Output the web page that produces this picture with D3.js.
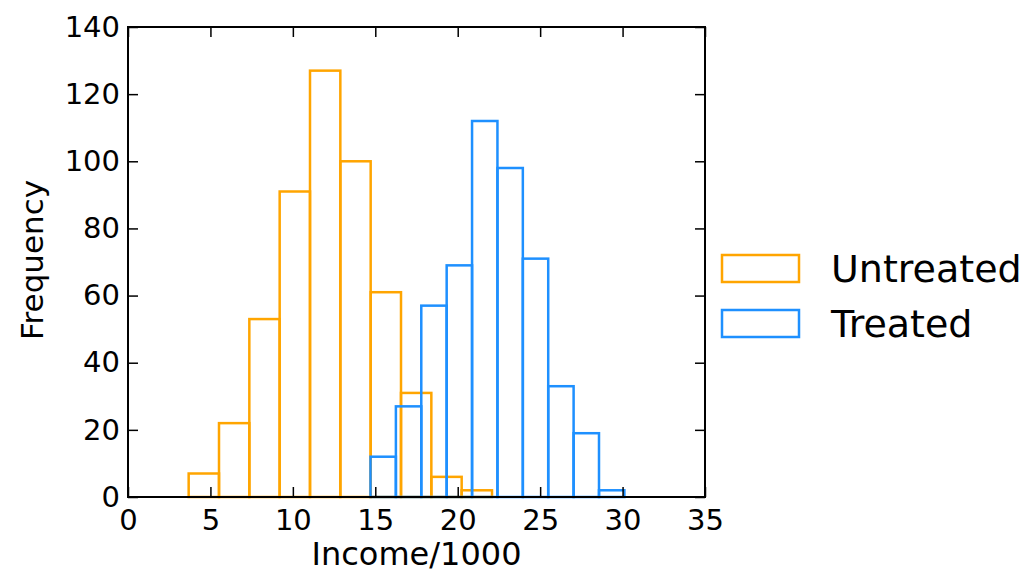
<!DOCTYPE html>
<html>
<head>
<meta charset="utf-8">
<script src="https://cdn.jsdelivr.net/npm/d3@7"></script>
<style>
 body { margin: 0; background: #fff; }
 text { font-family: "DejaVu Sans", sans-serif; fill: #000; }
</style>
</head>
<body>
<div id="chart"></div>
<script>
// bin edges and counts
var untreatedEdges = [3.68, 5.52, 7.36, 9.20, 11.04, 12.88, 14.72, 16.56, 18.40, 20.24, 22.08];
var untreatedCounts = [7, 22, 53, 91, 127, 100, 61, 31, 6, 2];
var treatedEdges = [14.71, 16.25, 17.79, 19.33, 20.87, 22.41, 23.95, 25.49, 27.03, 28.57, 30.11];
var treatedCounts = [12, 27, 57, 69, 112, 98, 71, 33, 19, 2];
var seriesNames = ["Untreated", "Treated"];
var seriesColors = ["#FFA500", "#1E90FF"];
var xTicks = [0, 5, 10, 15, 20, 25, 30, 35];
var yTicks = [0, 20, 40, 60, 80, 100, 120, 140];

var svgWidth = 1028;
var svgHeight = 573;
var margin = { top: 27, right: 323, bottom: 76, left: 128 };
var width = svgWidth - margin.left - margin.right;
var height = svgHeight - margin.top - margin.bottom;

var svg = d3.select("#chart")
 .append("svg")
 .attr("width", svgWidth)
 .attr("height", svgHeight);

var chartGroup = svg.append("g")
 .attr("transform", `translate(${margin.left}, ${margin.top})`);

var x = d3.scaleLinear().domain([0, 35]).range([0, width]);
var y = d3.scaleLinear().domain([0, 140]).range([height, 0]);

// turn edges + counts into bins
function toBins(edges, counts) {
 return counts.map(function(c, i) {
   return { x0: edges[i], x1: edges[i + 1], count: c };
 });
}

var series = [toBins(untreatedEdges, untreatedCounts), toBins(treatedEdges, treatedCounts)];

series.forEach(function(bins, s) {
 chartGroup.append("g")
   .selectAll("rect")
   .data(bins)
   .enter()
   .append("rect")
   .attr("x", d => x(d.x0))
   .attr("y", d => y(d.count))
   .attr("width", d => x(d.x1) - x(d.x0))
   .attr("height", d => y(0) - y(d.count))
   .attr("fill", "none")
   .attr("stroke", seriesColors[s])
   .attr("stroke-width", 2.5);
});

// axes: ticks pointing inward on all four sides
function styleAxis(g) {
 g.select(".domain").remove();
 g.selectAll(".tick line").attr("stroke", "#000").attr("stroke-width", 1.5);
 g.selectAll(".tick text").style("font-size", "29px").style("font-family", "DejaVu Sans");
}

chartGroup.append("g")
 .attr("transform", `translate(0, ${height})`)
 .call(d3.axisBottom(x).tickValues(xTicks).tickFormat(d3.format("d")).tickSizeInner(-10).tickPadding(12))
 .call(styleAxis);

chartGroup.append("g")
 .call(d3.axisTop(x).tickValues(xTicks).tickSizeInner(-10).tickFormat(""))
 .call(styleAxis);

chartGroup.append("g")
 .call(d3.axisLeft(y).tickValues(yTicks).tickFormat(d3.format("d")).tickSizeInner(-10).tickPadding(8))
 .call(styleAxis);

chartGroup.append("g")
 .attr("transform", `translate(${width}, 0)`)
 .call(d3.axisRight(y).tickValues(yTicks).tickSizeInner(-10).tickFormat(""))
 .call(styleAxis);

// frame
chartGroup.append("rect")
 .attr("width", width)
 .attr("height", height)
 .attr("fill", "none")
 .attr("stroke", "#000")
 .attr("stroke-width", 2);

// axis labels
chartGroup.append("text")
 .attr("x", width / 2)
 .attr("y", height + 68)
 .attr("text-anchor", "middle")
 .style("font-size", "32px")
 .text("Income/1000");

chartGroup.append("text")
 .attr("transform", "rotate(-90)")
 .attr("x", -height / 2 + 2)
 .attr("y", -margin.left + 43)
 .attr("text-anchor", "middle")
 .style("font-size", "31px")
 .text("Frequency");

// legend
var legend = svg.append("g")
 .attr("transform", "translate(722, 255)");

seriesNames.forEach(function(name, i) {
 var row = legend.append("g").attr("transform", `translate(0, ${i * 55})`);
 row.append("rect")
   .attr("width", 77)
   .attr("height", 27)
   .attr("fill", "none")
   .attr("stroke", seriesColors[i])
   .attr("stroke-width", 2.5);
 row.append("text")
   .attr("x", 109)
   .attr("y", 27)
   .style("font-size", "38px")
   .text(name);
});
</script>
</body>
</html>
